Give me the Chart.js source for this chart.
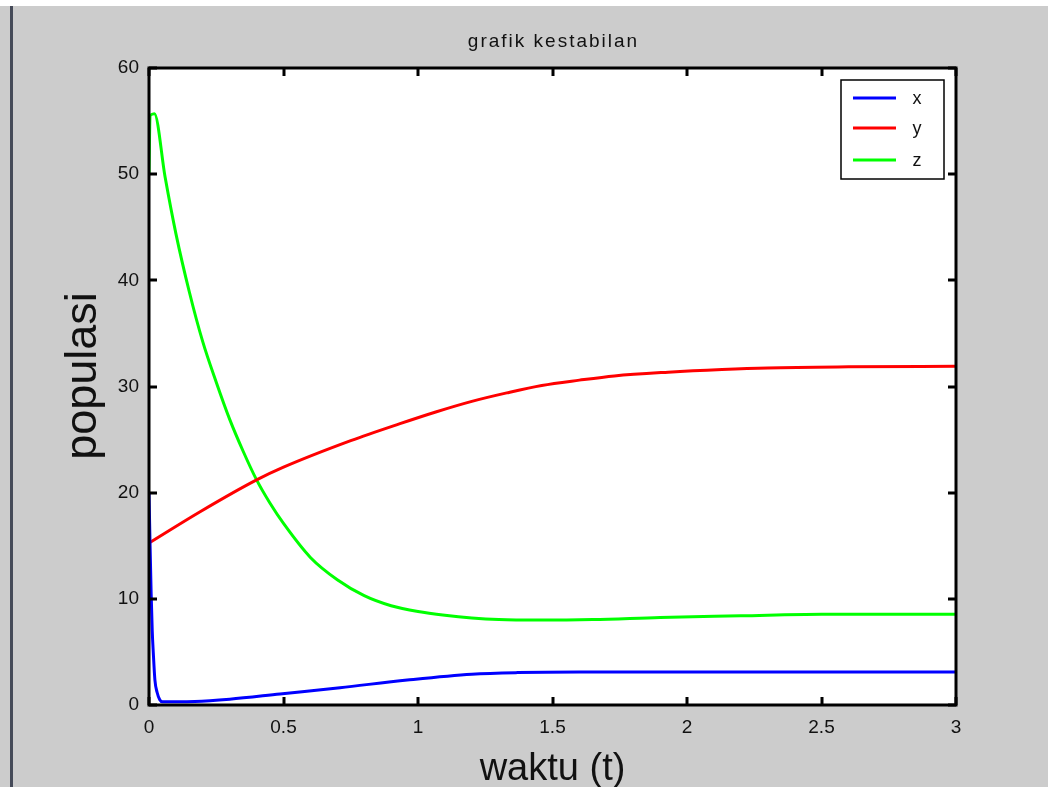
<!DOCTYPE html>
<html>
<head>
<meta charset="utf-8">
<script src="https://cdn.jsdelivr.net/npm/chart.js@4/dist/chart.umd.min.js"></script>
<style>
  html, body { margin: 0; padding: 0; background: #ffffff; }
  canvas { display: block; }
</style>
</head>
<body>
<canvas id="c" width="1048" height="787"></canvas>
<script>
// ---- data ----
const titleText = 'grafik kestabilan';
const xLabel = 'waktu (t)';
const yLabel = 'populasi';
const seriesNames = ['x', 'y', 'z'];

const xTicks = [0, 0.5, 1, 1.5, 2, 2.5, 3];
const yTicks = [0, 10, 20, 30, 40, 50, 60];

const tX = [0, 0.004, 0.008, 0.012, 0.016, 0.022, 0.03, 0.04, 0.05, 0.1, 0.17, 0.3, 0.487, 0.71, 0.96, 1.2, 1.37, 1.6, 2.0, 2.5, 3.0];
const xVals = [20, 15, 10.5, 7, 4.9, 2.35, 1.2, 0.5, 0.3, 0.3, 0.32, 0.54, 1.04, 1.63, 2.35, 2.9, 3.05, 3.1, 3.1, 3.1, 3.1];

const tY = [0, 0.19, 0.40, 0.5, 0.75, 0.933, 1.066, 1.2, 1.33, 1.46, 1.6, 1.73, 1.93, 2.13, 2.3, 2.6, 3.0];
const yVals = [15.25, 18.2, 21.2, 22.4, 24.9, 26.5, 27.6, 28.6, 29.4, 30.1, 30.6, 31.0, 31.35, 31.6, 31.75, 31.85, 31.9];

const tZ = [0, 0.004, 0.02, 0.06, 0.1, 0.15, 0.2, 0.25, 0.3, 0.35, 0.4, 0.45, 0.5, 0.6, 0.7, 0.8, 0.9, 1.0, 1.1, 1.2, 1.3, 1.45, 1.65, 1.9, 2.2, 2.5, 3.0];
const zVals = [50, 55.5, 55.7, 49.7, 44.4, 38.9, 34.2, 30.4, 26.9, 23.9, 21.2, 19.0, 17.1, 13.9, 11.8, 10.3, 9.35, 8.8, 8.45, 8.2, 8.05, 8.0, 8.05, 8.25, 8.4, 8.55, 8.55];

const colors = ['#0000ff', '#ff0000', '#00ff00'];

function pts(ts, vs) { return ts.map((t, i) => ({ x: t, y: vs[i] })); }

const decor = {
  id: 'decor',
  beforeDraw(chart) {
    const { ctx, chartArea: a } = chart;
    ctx.save();
    ctx.fillStyle = '#ffffff';
    ctx.fillRect(0, 0, chart.width, chart.height);
    ctx.fillStyle = '#cccccc';
    ctx.fillRect(0, 6, chart.width, chart.height - 6);
    ctx.fillStyle = '#ffffff';
    ctx.fillRect(a.left, a.top, a.right - a.left, a.bottom - a.top);
    ctx.restore();
  },
  afterDraw(chart) {
    const { ctx, chartArea: a, scales } = chart;
    const xs = scales.x, ys = scales.y;
    ctx.save();
    // left dark edge
    ctx.fillStyle = '#454a58';
    ctx.fillRect(10, 6, 3, chart.height - 6);
    // frame
    ctx.strokeStyle = '#000000';
    ctx.lineWidth = 3;
    ctx.strokeRect(a.left, a.top, a.right - a.left, a.bottom - a.top);
    // inward ticks
    ctx.lineWidth = 3;
    const tl = 8;
    xTicks.forEach(v => {
      const px = Math.round(xs.getPixelForValue(v));
      ctx.beginPath();
      ctx.moveTo(px, a.bottom); ctx.lineTo(px, a.bottom - tl);
      ctx.moveTo(px, a.top); ctx.lineTo(px, a.top + tl);
      ctx.stroke();
    });
    yTicks.forEach(v => {
      const py = Math.round(ys.getPixelForValue(v));
      ctx.beginPath();
      ctx.moveTo(a.left, py); ctx.lineTo(a.left + tl, py);
      ctx.moveTo(a.right, py); ctx.lineTo(a.right - tl, py);
      ctx.stroke();
    });
    // title
    ctx.fillStyle = '#111111';
    ctx.textAlign = 'center';
    ctx.textBaseline = 'middle';
    ctx.font = '19px "Liberation Sans", Arial, sans-serif';
    ctx.letterSpacing = '2px';
    ctx.fillText(titleText, (a.left + a.right) / 2 + 1, 42);
    ctx.letterSpacing = '0px';
    // axis titles
    ctx.font = '38px "Liberation Sans", Arial, sans-serif';
    ctx.textBaseline = 'alphabetic';
    ctx.fillText(xLabel, (a.left + a.right) / 2, 780);
    ctx.save();
    ctx.font = '45px "Liberation Sans", Arial, sans-serif';
    ctx.translate(96, 376);
    ctx.rotate(-Math.PI / 2);
    ctx.fillText(yLabel, 0, 0);
    ctx.restore();
    // legend box
    const lx = 841, ly = 80, lw = 103, lh = 99;
    ctx.fillStyle = '#ffffff';
    ctx.fillRect(lx, ly, lw, lh);
    ctx.strokeStyle = '#000000';
    ctx.lineWidth = 1.5;
    ctx.strokeRect(lx, ly, lw, lh);
    const rows = [98, 128, 160];
    ctx.font = '18px "Liberation Sans", Arial, sans-serif';
    ctx.textAlign = 'center';
    ctx.textBaseline = 'middle';
    chart.data.datasets.forEach((ds, i) => {
      ctx.strokeStyle = ds.borderColor;
      ctx.lineWidth = 3;
      ctx.beginPath();
      ctx.moveTo(853, rows[i]); ctx.lineTo(896, rows[i]);
      ctx.stroke();
      ctx.fillStyle = '#111111';
      ctx.fillText(ds.label, 917, rows[i] + 1);
    });
    ctx.restore();
  }
};

new Chart(document.getElementById('c'), {
  type: 'line',
  data: {
    datasets: [
      { label: seriesNames[0], data: pts(tX, xVals), borderColor: colors[0] },
      { label: seriesNames[1], data: pts(tY, yVals), borderColor: colors[1] },
      { label: seriesNames[2], data: pts(tZ, zVals), borderColor: colors[2] }
    ].map(d => Object.assign(d, { borderWidth: 3, pointRadius: 0, fill: false, cubicInterpolationMode: 'monotone' }))
  },
  options: {
    responsive: false,
    animation: false,
    devicePixelRatio: 1,
    layout: { padding: { left: 0, right: 92, top: 68, bottom: 0 } },
    plugins: { legend: { display: false }, tooltip: { enabled: false }, title: { display: false } },
    scales: {
      x: {
        type: 'linear', min: 0, max: 3,
        afterFit(s) { s.height = 82; },
        afterBuildTicks(s) { s.ticks = xTicks.map(v => ({ value: v })); },
        grid: { display: false, drawTicks: false },
        border: { display: false },
        ticks: { padding: 11, color: '#111111', font: { family: '"Liberation Sans", Arial, sans-serif', size: 19 }, maxRotation: 0, autoSkip: false,
          callback: v => String(v) }
      },
      y: {
        type: 'linear', min: 0, max: 60,
        afterFit(s) { s.width = 149; },
        afterBuildTicks(s) { s.ticks = yTicks.map(v => ({ value: v })); },
        grid: { display: false, drawTicks: false },
        border: { display: false },
        ticks: { padding: 10, color: '#111111', font: { family: '"Liberation Sans", Arial, sans-serif', size: 19 }, autoSkip: false,
          callback: v => String(v) }
      }
    }
  },
  plugins: [decor]
});
</script>
</body>
</html>
